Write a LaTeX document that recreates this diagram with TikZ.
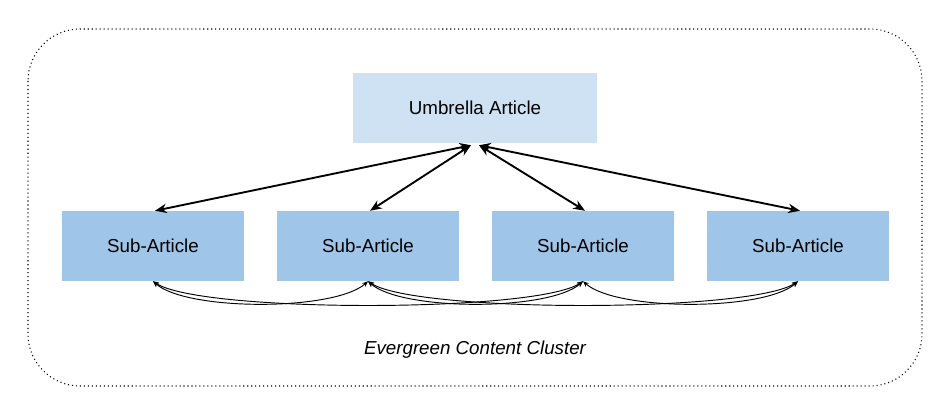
\documentclass[tikz,border=0pt]{standalone}
\usepackage{fontspec}
\setmainfont{Liberation Sans}
\usetikzlibrary{positioning,arrows.meta,calc}
\definecolor{umbcol}{RGB}{207,226,243}
\definecolor{subcol}{RGB}{159,197,232}

\begin{document}
\begin{tikzpicture}[
  every node/.style={font=\fontsize{16}{19}\selectfont},
  %% article block  \node[art=subcol]{...}
  art/.style={
    fill=#1, draw=none,
    minimum width=5.46cm, minimum height=2.10cm,
    align=center, inner sep=2pt
  },
  art/.default=subcol,
  %% umbrella <-> sub arrows
  link/.style={{Stealth[length=10pt,width=8pt]}-{Stealth[length=10pt,width=8pt]}, line width=1.6pt},
  %% sub <-> sub curves
  cross/.style={{Stealth[length=5pt,width=4pt]}-{Stealth[length=5pt,width=4pt]}, line width=0.8pt},
]

%%── Page frame ───────────────────────────────────────────────────────────────
\useasboundingbox (0,0) rectangle (28.53,-12.48);

%%── Cluster outline ──────────────────────────────────────────────────────────
\draw[black, line width=0.9pt, dash pattern=on 0.9pt off 2.5pt,
      rounded corners=1.56cm]
  (0.84,-0.87) rectangle (27.66,-11.58);

\node[font=\fontsize{16}{19}\selectfont\itshape] (lbl) at (14.25,-10.50)
  {Evergreen Content Cluster};

%%── Umbrella article ─────────────────────────────────────────────────────────
\node[art=umbcol, minimum width=7.32cm] (umb) at (14.25,-3.24)
  {Umbrella Article};

%%── Sub-articles ─────────────────────────────────────────────────────────────
\node[art] (sub1) at (4.59,-7.38)  {Sub-Article};
\node[art] (sub2) at (11.04,-7.38) {Sub-Article};
\node[art] (sub3) at (17.49,-7.38) {Sub-Article};
\node[art] (sub4) at (23.94,-7.38) {Sub-Article};

%%── Umbrella <-> sub-articles ────────────────────────────────────────────────
\coordinate (ul) at ($(umb.south)+(-0.12,-0.06)$);
\coordinate (ur) at ($(umb.south)+(0.12,-0.06)$);
\draw[link] (ul) -- ($(sub1.north)+(0.06,0)$);
\draw[link] (ul) -- ($(sub2.north)+(0.06,0)$);
\draw[link] (ur) -- ($(sub3.north)+(0.06,0)$);
\draw[link] (ur) -- ($(sub4.north)+(0.06,0)$);

%%── Sub-article cross links ──────────────────────────────────────────────────
\draw[cross] (sub1.south) .. controls +(1.0,-0.90) and +(-1.0,-0.90) .. (sub2.south);
\draw[cross] (sub1.south) .. controls +(1.4,-0.95) and +(-1.4,-0.95) .. (sub3.south);
\draw[cross] (sub2.south) .. controls +(1.0,-0.90) and +(-1.0,-0.90) .. (sub3.south);
\draw[cross] (sub2.south) .. controls +(1.4,-0.95) and +(-1.4,-0.95) .. (sub4.south);
\draw[cross] (sub3.south) .. controls +(1.0,-0.90) and +(-1.0,-0.90) .. (sub4.south);

\end{tikzpicture}
\end{document}
